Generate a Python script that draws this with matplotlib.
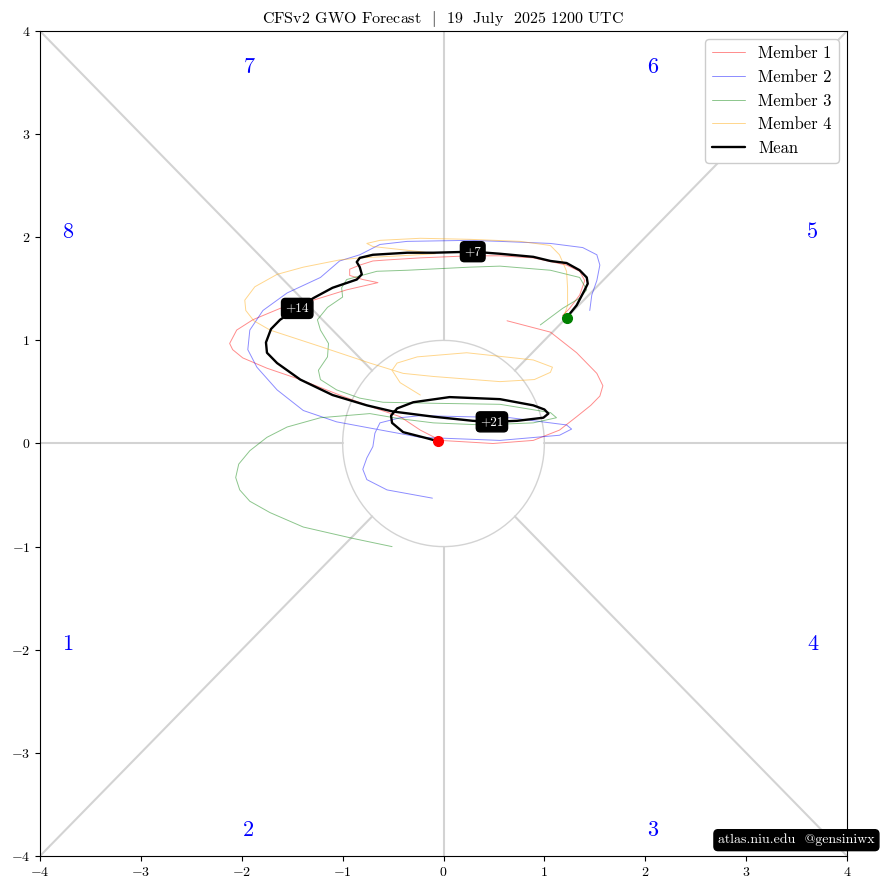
import numpy as np
import matplotlib
matplotlib.use("Agg")
import matplotlib.pyplot as plt

plt.rcParams['font.family'] = ['cmr10', 'DejaVu Serif']
plt.rcParams['mathtext.fontset'] = 'cm'
plt.rcParams['axes.formatter.use_mathtext'] = True
plt.rcParams['lines.solid_joinstyle'] = 'round'
plt.rcParams['lines.solid_capstyle'] = 'round'

# ensemble mean track (GWO phase space), day 0 -> end
mean_x = [1.22, 1.32, 1.40, 1.43, 1.42, 1.35, 1.22, 1.06, 0.89, 0.56, 0.29, -0.10, -0.36, -0.70, -0.83,
          -0.86, -0.83, -0.81, -0.86, -1.10, -1.29, -1.45, -1.62, -1.71, -1.76, -1.75, -1.65, -1.42, -1.10,
          -0.76, -0.50, -0.10, 0.29, 0.48, 0.73, 0.99, 1.04, 1.00, 0.89, 0.56, 0.06, -0.30, -0.46, -0.52,
          -0.51, -0.40, -0.16, -0.05]
mean_y = [1.22, 1.34, 1.49, 1.55, 1.61, 1.68, 1.75, 1.77, 1.81, 1.84, 1.86, 1.85, 1.85, 1.83, 1.80,
          1.76, 1.71, 1.64, 1.59, 1.51, 1.41, 1.31, 1.20, 1.11, 0.98, 0.88, 0.78, 0.62, 0.47,
          0.37, 0.31, 0.26, 0.22, 0.21, 0.22, 0.25, 0.29, 0.33, 0.37, 0.43, 0.45, 0.40, 0.34, 0.27,
          0.20, 0.11, 0.05, 0.02]
lead_labels = ['+7', '+14', '+21']
lead_index = [10, 21, 33]

m1_x = [1.18, 1.25, 1.35, 1.40, 1.35, 1.22, 0.89, 0.56, 0.26, -0.23, -0.56, -0.70, -0.83, -0.93,
        -0.93, -0.80, -0.65, -0.96, -1.29, -1.62, -1.89, -2.05, -2.12, -2.09, -1.99, -1.75, -1.42,
        -1.03, -0.70, -0.43, -0.23, -0.03, 0.49, 0.89, 1.15, 1.32, 1.46, 1.55, 1.58, 1.52, 1.32, 1.06, 0.63]
m1_y = [1.24, 1.31, 1.44, 1.58, 1.67, 1.73, 1.80, 1.82, 1.82, 1.80, 1.78, 1.77, 1.73, 1.69,
        1.63, 1.59, 1.56, 1.49, 1.39, 1.31, 1.20, 1.10, 0.97, 0.91, 0.83, 0.73, 0.62,
        0.47, 0.35, 0.26, 0.13, 0.03, 0.00, 0.03, 0.13, 0.26, 0.37, 0.46, 0.56, 0.68, 0.88, 1.08, 1.19]

m2_x = [1.45, 1.47, 1.52, 1.55, 1.52, 1.38, 1.06, 0.56, 0.26, -0.36, -0.63, -0.73, -0.83, -1.03,
        -1.22, -1.55, -1.79, -1.92, -1.94, -1.85, -1.65, -1.39, -1.06, -0.73, -0.23, 0.56, 1.15,
        1.27, 1.22, 0.66, -0.23, -0.43, -0.63, -0.68, -0.70, -0.76, -0.80, -0.76, -0.56, -0.11]
m2_y = [1.29, 1.44, 1.58, 1.73, 1.83, 1.90, 1.94, 1.96, 1.97, 1.96, 1.93, 1.88, 1.83, 1.77,
        1.61, 1.46, 1.29, 1.10, 0.91, 0.74, 0.52, 0.32, 0.21, 0.15, 0.06, 0.03, 0.08,
        0.14, 0.18, 0.25, 0.27, 0.25, 0.20, 0.10, -0.03, -0.14, -0.25, -0.35, -0.45, -0.53]

m3_x = [0.96, 1.18, 1.35, 1.42, 1.35, 1.06, 0.56, 0.26, -0.36, -0.66, -0.96, -1.01, -1.00, -1.15,
        -1.25, -1.22, -1.14, -1.15, -1.24, -1.22, -1.06, -0.83, -0.60, -0.10, 0.56, 1.06, 1.12,
        0.89, 0.39, -0.10, -0.43, -0.73, -1.22, -1.55, -1.75, -1.92, -2.03, -2.06, -2.02, -1.92,
        -1.72, -1.39, -0.90, -0.51]
m3_y = [1.15, 1.31, 1.41, 1.49, 1.61, 1.68, 1.72, 1.71, 1.68, 1.67, 1.59, 1.51, 1.42, 1.32,
        1.20, 1.10, 0.97, 0.84, 0.71, 0.62, 0.52, 0.44, 0.40, 0.39, 0.38, 0.30, 0.25,
        0.20, 0.18, 0.20, 0.24, 0.29, 0.25, 0.16, 0.06, -0.07, -0.20, -0.33, -0.45, -0.56,
        -0.67, -0.81, -0.92, -1.00]

m4_x = [1.20, 1.23, 1.23, 1.22, 1.15, 1.06, 0.76, 0.26, -0.23, -0.63, -0.76, -0.70, -0.23, -0.08,
        -0.43, -0.83, -1.03, -1.39, -1.65, -1.87, -1.97, -1.96, -1.88, -1.72, -1.22, -0.73, -0.40,
        -0.10, 0.56, 0.90, 1.06, 1.08, 0.89, 0.23, -0.26, -0.46, -0.51, -0.43, -0.23]
m4_y = [1.25, 1.34, 1.51, 1.67, 1.83, 1.92, 1.96, 1.98, 1.99, 1.97, 1.94, 1.91, 1.86, 1.84,
        1.82, 1.80, 1.78, 1.71, 1.64, 1.52, 1.39, 1.29, 1.19, 1.10, 0.94, 0.78, 0.68,
        0.65, 0.60, 0.62, 0.69, 0.74, 0.81, 0.88, 0.84, 0.78, 0.71, 0.59, 0.47]

members = [(m1_x, m1_y, 'red', 'Member 1'),
           (m2_x, m2_y, 'blue', 'Member 2'),
           (m3_x, m3_y, 'green', 'Member 3'),
           (m4_x, m4_y, 'orange', 'Member 4')]

phase_names = ['1', '2', '3', '4', '5', '6', '7', '8']
phase_x = [-3.73, -1.93, 2.07, 3.66, 3.66, 2.07, -1.93, -3.73]
phase_y = [-1.95, -3.75, -3.75, -1.95, 2.05, 3.65, 3.65, 2.05]

fig = plt.figure(figsize=(8.81, 8.90), dpi=100)
ax = fig.add_axes([40 / 881, 1 - 856 / 890, 807 / 881, 825 / 890])

# phase-space background
gc = 'lightgray'
r = 1 / np.sqrt(2)
ax.plot([-4, -1], [0, 0], color=gc, lw=1.5, zorder=1)
ax.plot([1, 4], [0, 0], color=gc, lw=1.5, zorder=1)
ax.plot([0, 0], [-4, -1], color=gc, lw=1.5, zorder=1)
ax.plot([0, 0], [1, 4], color=gc, lw=1.5, zorder=1)
for sx in (-1, 1):
    for sy in (-1, 1):
        ax.plot([sx * 4, sx * r], [sy * 4, sy * r], color=gc, lw=1.5, zorder=1)
t = np.linspace(0, 2 * np.pi, 200)
ax.plot(np.cos(t), np.sin(t), color=gc, lw=1, zorder=1)

for i, name in enumerate(phase_names):
    ax.text(phase_x[i], phase_y[i], name, color='blue', fontsize=16, ha='center', va='center')

for xs, ys, c, lab in members:
    ax.plot(xs, ys, color=c, lw=0.7, alpha=0.45, label=lab, zorder=2)

ax.plot(mean_x, mean_y, color='black', lw=1.7, label='Mean', zorder=3)
ax.plot(mean_x[0], mean_y[0], 'o', color='green', ms=7, zorder=4)
ax.plot(mean_x[-1], mean_y[-1], 'o', color='red', ms=7, zorder=4)

for lab, idx in zip(lead_labels, lead_index):
    ax.text(mean_x[idx], mean_y[idx], lab, color='white', fontsize=9.5, ha='center', va='center',
            zorder=5, bbox=dict(boxstyle='round,pad=0.3', fc='black', ec='black'))

ax.set_xlim(-4, 4)
ax.set_ylim(-4, 4)
ax.set_xticks(range(-4, 5))
ax.set_yticks(range(-4, 5))
ax.tick_params(labelsize=10)
ax.set_title(r'CFSv2 GWO Forecast  $|$  19  July  2025 1200 UTC', fontsize=11.5, pad=6)

ax.legend(loc='upper right', fontsize=12, framealpha=1)

fig.text(0.904, 0.056, 'atlas.niu.edu  @gensiniwx', color='white', fontsize=10, ha='center',
         va='center', bbox=dict(boxstyle='round,pad=0.3', fc='black', ec='black'), zorder=10)

fig.savefig('out.png', dpi=100)
